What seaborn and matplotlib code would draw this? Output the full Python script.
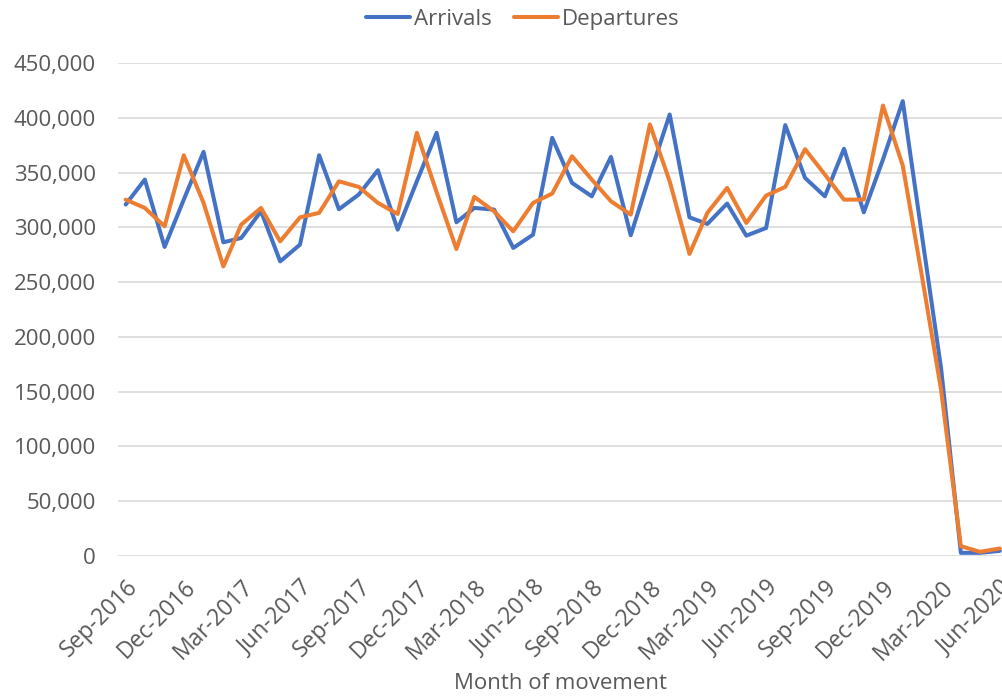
import matplotlib

matplotlib.use("Agg")

import matplotlib.dates as mdates
import matplotlib.pyplot as plt
import matplotlib.ticker as mticker
import numpy as np
import pandas as pd
import seaborn as sns

# monthly movements, Sep-2016 .. Jun-2020
months = pd.date_range("2016-09-01", "2020-06-01", freq="MS")
arrivals = [
    320800, 343600, 282100, 325300, 368900, 286300, 290300, 314700, 268900, 284200,
    365800, 316500, 329900, 352100, 297900, 342000, 386300, 304600, 317700, 316200,
    281200, 293300, 381700, 340600, 328300, 364300, 292700, 347900, 403000, 309100,
    303100, 321700, 292400, 299400, 393300, 345100, 328300, 371700, 313700, 361900,
    415200, 288700, 171500, 2900, 2900, 4700,
]
departures = [
    325300, 317700, 300900, 365800, 322300, 264300, 302500, 317700, 287200, 309100,
    313200, 342000, 336900, 322300, 312200, 386300, 332000, 280200, 327800, 314600,
    296400, 322300, 330800, 364900, 343600, 323800, 311600, 393900, 342000, 275700,
    313200, 336000, 304000, 329000, 336900, 371300, 348200, 325300, 325300, 411200,
    356400, 252200, 151700, 9000, 3800, 6900,
]

df = pd.DataFrame({"month": months, "Arrivals": arrivals, "Departures": departures})
long_df = df.melt(id_vars="month", var_name="series", value_name="count")

sns.set_style("white")
plt.rcParams["font.family"] = ["Open Sans", "DejaVu Sans"]
text_color = "#595959"

fig = plt.figure(figsize=(10.03, 6.96), dpi=100)
ax = fig.add_axes([118 / 1003, 140 / 696, 885 / 1003, 493 / 696])

sns.lineplot(
    data=long_df,
    x="month",
    y="count",
    hue="series",
    palette={"Arrivals": "#4472C4", "Departures": "#ED7D31"},
    linewidth=2.9,
    ax=ax,
)

ax.set_ylim(0, 450000)
ax.set_xlim(months[0] - pd.Timedelta(days=12), months[-1] + pd.Timedelta(days=5))
ax.yaxis.set_major_locator(mticker.MultipleLocator(50000))
ax.yaxis.set_major_formatter(mticker.FuncFormatter(lambda v, _: f"{int(v):,}"))
ax.grid(axis="y", color="#D9D9D9", linewidth=1.2)
ax.set_axisbelow(True)
for side in ["top", "right", "left", "bottom"]:
    ax.spines[side].set_visible(False)

ax.xaxis.set_major_locator(mdates.MonthLocator(bymonth=[3, 6, 9, 12]))
ax.xaxis.set_major_formatter(mdates.DateFormatter("%b-%Y"))
ax.tick_params(axis="y", length=0, pad=16, labelsize=16, labelcolor=text_color)
ax.tick_params(axis="x", length=0, pad=14, labelsize=16.5, labelcolor=text_color)
for label in ax.get_xticklabels():
    label.set_rotation(45)
    label.set_ha("right")
    label.set_va("top")
    label.set_rotation_mode("anchor")

ax.set_ylabel("")
ax.set_xlabel("Month of movement", fontsize=16, color=text_color, labelpad=6)

ax.legend(
    loc="center",
    bbox_to_anchor=(0.457, 1.088),
    ncol=2,
    frameon=False,
    fontsize=16,
    labelcolor=text_color,
    handlelength=2.0,
    handletextpad=0.15,
    columnspacing=1.0,
)

fig.savefig("out.png", dpi=100)
